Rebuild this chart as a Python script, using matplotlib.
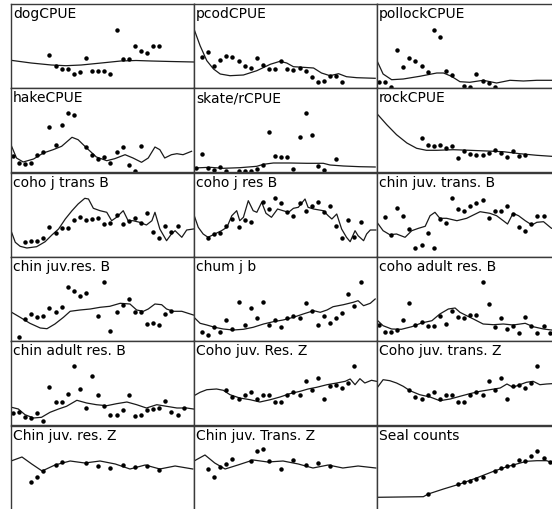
import matplotlib
matplotlib.use("Agg")
from matplotlib import pyplot as plt

# dots: year index + value ; lines: model fit (time, value)
dog_t = list(range(6, 25))
dog_v = [33.3, 22.3, 18.7, 18.7, 14.3, 16, 30.3, 17.3, 17.3, 16.7, 14.3, 58, 29, 29, 41.7, 37.3, 34.7, 41.7, 42.3]
dog_lt = [-0.3, 3.0, 6.3, 8.7, 11.2, 14.5, 17.7, 20.2, 22.7, 25.9, 29.7]
dog_lv = [27.7, 25, 23, 22.3, 23, 25, 27, 27.5, 27, 26.5, 26]

pcod_t = list(range(1, 25))
pcod_v = [30.7, 36.3, 22.3, 27.7, 32.3, 31.3, 27, 22.3, 20, 30.3, 23, 18.7, 19.3, 27, 19.3, 18, 20.3, 16.7, 11.3, 6.3, 7, 11.7, 11.7, 6.3]
pcod_lt = [-0.3, 0.7, 1.8, 2.9, 4.0, 5.6, 7.8, 10.0, 12.2, 13.8, 14.9, 16.0, 17.6, 19.3, 20.6, 22.0, 23.4, 24.7, 26.4, 29.4]
pcod_lv = [59, 42.3, 27.3, 19, 14, 12.3, 13, 17.3, 23.7, 26.7, 25, 21.3, 20.7, 20, 15, 12.3, 14.3, 11.3, 10.3, 9.7]

poll_t = list(range(0, 13)) + list(range(14, 20))
poll_v = [5.7, 6.3, 1, 38, 20.7, 29.7, 27, 22.3, 16.3, 58.3, 51, 17, 13, 1.7, 1, 13.7, 7.3, 5, 1]
poll_lt = [-0.3, 0.7, 2.1, 4.0, 6.7, 9.5, 10.6, 11.9, 13.3, 14.9, 17.1, 19.3, 21.5, 23.7, 25.9, 28.3, 29.7]
poll_lv = [27.3, 14, 8.3, 9, 11.7, 15, 15, 11.7, 6.3, 5.7, 7.7, 5, 7.7, 7, 7.7, 7.7, 7.7]

hake_t = list(range(0, 11)) + list(range(12, 22))
hake_v = [16.3, 9, 8.3, 9, 17.3, 20.3, 45.3, 27, 46.7, 59.3, 56.7, 25, 16.7, 13, 14.7, 9, 19.7, 25.3, 7, 1, 26.3]
hake_lt = [-0.2, 0.6, 1.7, 3.4, 5.0, 6.6, 8.0, 9.7, 10.7, 12.1, 13.7, 15.4, 16.7, 18.4, 19.7, 21.1, 22.2, 23.3, 24.1, 24.9, 26.0, 26.9, 27.9, 29.3]
hake_lv = [25.7, 14, 10, 13, 19, 22.3, 25.7, 34.7, 32.3, 24, 15, 11.3, 13.3, 17.3, 14, 9.7, 14, 25, 22.3, 14, 17.3, 18.3, 17.3, 20.7]

skate_t = list(range(0, 6)) + list(range(7, 22)) + [23]
skate_v = [4, 18.3, 4, 1.7, 5.3, 1, 1, 1, 1, 3.3, 7.3, 40.3, 15.7, 14.7, 14.7, 3, 35, 59, 37.3, 6.3, 1.7, 12.7]
skate_lt = [-0.3, 2.3, 4.5, 7.2, 10.0, 11.1, 12.7, 15.4, 18.2, 20.9, 22.0, 24.2, 26.9, 29.4]
skate_lv = [4, 4.7, 3.7, 4.3, 5.7, 7.7, 9, 9, 8.7, 8.7, 7, 6, 5.3, 5]

rock_t = list(range(7, 25))
rock_v = [34, 26.7, 25.7, 26.7, 23.7, 25.7, 13.7, 20.7, 18.3, 17, 17, 19, 22, 19.3, 15.3, 20.7, 16, 17]
rock_lt = [-0.3, 1.3, 2.9, 4.6, 6.2, 7.8, 9.5, 12.2, 14.9, 17.7, 20.4, 23.1, 25.9, 28.3, 29.7]
rock_lv = [58.3, 47.3, 37.3, 29, 23.7, 21.7, 21.7, 22.3, 21.7, 21, 20.3, 18.3, 16.7, 15.7, 15.3]

cjt_t = list(range(2, 28))
cjt_v = [15.3, 16, 16, 19.3, 29.7, 24, 28.7, 29, 36.7, 39.7, 37, 38, 38.7, 33, 34, 42, 32.7, 35.7, 38.7, 33.7, 44.3, 25, 19.3, 31.3, 24.7, 31.3]
cjt_lt = [-0.2, 0.4, 1.2, 2.3, 3.9, 5.3, 6.4, 7.5, 8.6, 9.7, 10.7, 11.8, 12.4, 13.2, 14.3, 15.4, 16.2, 17.0, 18.1, 18.9, 19.7, 20.8, 21.9, 22.8, 23.3, 24.1, 25.2, 26.0, 26.6, 27.7, 28.5, 29.6]
cjt_lv = [24.7, 14.7, 10.7, 9, 10.3, 15.3, 22, 28, 38, 46.3, 53, 58.7, 58, 48.7, 46.3, 44.7, 36.3, 39.7, 46.3, 36.3, 36.3, 34.7, 32, 36.3, 44.7, 28, 16.3, 23, 26.3, 19.7, 27, 28]

cjr_t = list(range(2, 10)) + list(range(11, 28))
cjr_v = [18.7, 23, 23.7, 30.7, 38, 29.7, 37.3, 34.7, 55.3, 47.7, 58.7, 54.3, 45.3, 41, 54.3, 46.3, 51.3, 55.3, 45.3, 51, 30.7, 18.7, 37, 20.3, 34.7]
cjr_lt = [-0.3, 0.4, 1.2, 2.0, 3.1, 4.2, 5.1, 5.9, 6.7, 7.2, 7.8, 8.6, 9.4, 10.0, 10.8, 11.5, 12.4, 13.4, 14.3, 15.2, 16.0, 16.8, 17.9, 18.4, 19.3, 20.9, 21.7, 22.3, 23.1, 23.9, 24.7, 25.3, 26.1, 26.6, 27.5, 28.0, 28.6, 29.5]
cjr_lv = [42, 29.7, 23, 19.7, 23, 26.3, 29.7, 41.3, 46.3, 36.3, 39.7, 56.3, 46.3, 44.7, 54.7, 43.7, 39.7, 48, 46.3, 44.7, 48.7, 49.7, 58, 49.7, 48, 46.3, 41.3, 38, 43, 28, 19.7, 15.3, 26.3, 21.3, 16.3, 23, 27, 27]

chjt_t = list(range(1, 28))
chjt_v = [40.3, 22, 49, 40.7, 28, 9, 12, 23.7, 9, 38, 33.7, 58.7, 48, 46.3, 51.3, 53.7, 57, 39.3, 45.7, 45.7, 51.3, 42.7, 29.7, 26, 32.7, 40.7, 40.7]
chjt_lt = [-0.3, 0.7, 1.8, 2.9, 4.3, 5.4, 6.5, 7.6, 8.4, 9.2, 10.0, 11.1, 12.8, 14.4, 15.5, 16.6, 18.2, 19.3, 20.4, 21.1, 22.0, 22.9, 24.0, 25.1, 25.9, 27.0, 28.3, 29.7]
chjt_lv = [34.7, 26.3, 22.3, 23, 19.7, 26.3, 28.7, 30.7, 41.3, 44.7, 38.7, 38.7, 36.3, 38.7, 42, 45.3, 43.7, 41.3, 36.3, 33, 43.7, 41.3, 36.3, 32, 34.7, 35.3, 28.7, 28.7]

chjr_t = list(range(1, 13)) + list(range(14, 27))
chjr_v = [3.7, 22, 27, 24.3, 24.7, 33, 28.7, 33.7, 54.3, 50.3, 45.3, 47.7, 24.7, 58.7, 9.7, 29.3, 36, 42, 29.3, 29.3, 17, 18, 16.3, 27, 30]
chjr_lt = [-0.2, 1.2, 2.8, 4.5, 5.6, 6.9, 8.3, 9.4, 11.0, 12.7, 14.3, 15.9, 17.6, 19.2, 20.3, 21.4, 22.2, 23.3, 24.4, 25.2, 26.3, 27.7, 29.6]
chjr_lv = [28.7, 23.7, 17.7, 13, 12.3, 17, 23.7, 29.7, 31, 32, 33.7, 34.7, 37.7, 37, 31, 29.7, 32, 37, 36.3, 32, 29.7, 29.7, 26]

chum_t = list(range(1, 28))
chum_v = [8.7, 6, 13.7, 8.7, 21, 11.7, 39.3, 16.3, 33, 23, 39.3, 16.3, 21, 13.7, 23, 25.3, 22.7, 37.7, 30.3, 16.3, 25.3, 18, 23, 28.3, 46.7, 34.7, 58.7]
chum_lt = [-0.3, 0.7, 1.8, 3.1, 4.5, 6.1, 7.8, 9.4, 11.1, 12.7, 14.3, 16.0, 17.6, 19.3, 20.4, 21.5, 22.5, 24.2, 25.8, 26.6, 27.5, 28.6, 29.4]
chum_lv = [23.7, 17.7, 16, 13.7, 12, 11, 11.7, 13.7, 17, 19.3, 21, 23.7, 27, 30.3, 28.7, 31, 34.3, 36.3, 38.7, 40.3, 35.3, 37.7, 42]

car_t = list(range(0, 29))
car_v = [16, 9.3, 8.7, 11, 21.3, 37.7, 16, 19.3, 15.3, 15.3, 25, 16.7, 30.3, 23.7, 22.7, 26.3, 26, 58.7, 37, 13.7, 23, 12, 15.3, 7.7, 24.3, 15.3, 8.3, 15.3, 7.7]
car_lt = [-0.3, 0.7, 2.1, 3.7, 5.4, 7.0, 8.7, 10.0, 11.4, 12.5, 13.3, 14.4, 15.5, 17.1, 18.8, 20.4, 22.0, 24.0, 25.3, 27.0, 28.3, 29.7]
car_lv = [21, 15.3, 12, 11.7, 14.3, 18, 20.3, 27, 32, 33, 28.7, 25.3, 22, 17, 16.3, 17, 16, 17.7, 14.3, 12, 11, 10.5]

chad_t = list(range(0, 29))
chad_v = [12, 12.7, 8, 7, 12, 4, 38, 22.7, 22.7, 31.3, 58.7, 36, 17, 48.7, 29.7, 19.3, 10.3, 10.3, 15.3, 29.7, 9.3, 10.3, 15.3, 16.3, 17, 23.7, 13, 10.3, 17]
chad_lt = [-0.2, 0.9, 2.0, 3.4, 4.7, 6.1, 7.5, 8.8, 10.5, 12.1, 13.7, 15.4, 17.0, 18.7, 20.3, 21.9, 23.6, 25.2, 26.9, 28.5, 29.6]
chad_lv = [17.7, 16, 10.3, 7, 7.7, 12.7, 16, 18.7, 24.7, 22, 20.3, 19.3, 21.3, 23, 20.3, 17, 20.3, 18.7, 17, 17, 16]

cz_t = list(range(5, 27))
cz_v = [35.3, 28, 26.3, 29.7, 33.3, 26.3, 29.7, 29.7, 22.7, 23, 29.7, 33.3, 29.7, 43.7, 35.3, 47, 26.3, 39.3, 40.3, 37, 42, 59.3]
czr_lt = [-0.3, 0.7, 1.8, 3.4, 4.5, 5.6, 7.2, 8.9, 10.5, 12.2, 13.8, 15.4, 17.1, 18.4, 19.8, 21.5, 23.1, 24.5, 25.3, 26.1, 26.9, 27.7, 28.8, 29.6]
czr_lv = [29.3, 32.7, 35.3, 36, 34.7, 30.3, 27, 25.3, 23, 25.3, 28, 31.3, 33.7, 36, 37.7, 40.3, 42, 43.7, 46, 40.3, 46.3, 42, 44.7, 43.7]
czt_lt = [-0.3, 0.7, 1.8, 2.9, 4.0, 5.1, 6.7, 8.4, 10.0, 11.7, 13.3, 14.9, 16.6, 18.2, 19.9, 21.0, 22.0, 23.1, 24.2, 25.3, 26.4, 27.5, 28.3, 29.7]
czt_lv = [37, 45.3, 44.3, 42, 38.7, 34.3, 30.3, 28, 24.3, 26, 28.7, 31.3, 33.7, 35.3, 37, 41, 37.7, 40.3, 42.7, 43.7, 40.3, 41, 41.3, 41.3]

chzr_t = [3, 4, 5, 7, 8, 12, 14, 16, 18, 20, 22, 24]
chzr_v = [28, 33, 39, 45, 48, 47, 44, 42, 45, 43, 44, 40]
chzr_lt = [-0.3, 1.5, 3.1, 4.8, 6.9, 9.4, 11.8, 14.3, 16.8, 19.2, 21.7, 24.1, 26.6, 29.5]
chzr_lv = [49, 53, 46, 39, 45, 49, 47, 49, 46, 41, 45, 41, 44, 41]

chzt_t = [2, 3, 4, 5, 6, 9, 10, 11, 12, 14, 16, 18, 20, 22]
chzt_v = [41, 33, 43, 46, 51, 49, 59, 61, 49, 41, 50, 45, 47, 44]
chzt_lt = [-0.3, 1.5, 3.1, 4.8, 6.9, 9.4, 11.8, 14.3, 16.8, 19.2, 21.7, 24.1, 26.6, 29.5]
chzt_lv = [49, 55, 47, 41, 45, 50, 48, 49, 46, 42, 45, 42, 44, 42]

seal_t = [8, 13, 14, 15, 16, 17, 19, 20, 21, 22, 23, 24, 25, 26, 27, 28]
seal_v = [16, 26, 28.3, 29.3, 31, 32.7, 39.3, 41.7, 44.3, 45.3, 50.3, 48.7, 54.3, 59.3, 52, 47.7]
seal_lt = [-0.3, 7.3, 8.1, 10.6, 13.3, 16.0, 18.8, 21.0, 22.6, 24.2, 25.9, 27.5, 28.3, 29.7]
seal_lv = [12.7, 13.3, 16, 21, 26, 32, 38.7, 43.3, 46, 48.7, 49.3, 49.3, 47.7, 47.7]

panels = [
    ("dogCPUE", dog_t, dog_v, dog_lt, dog_lv),
    ("pcodCPUE", pcod_t, pcod_v, pcod_lt, pcod_lv),
    ("pollockCPUE", poll_t, poll_v, poll_lt, poll_lv),
    ("hakeCPUE", hake_t, hake_v, hake_lt, hake_lv),
    ("skate/rCPUE", skate_t, skate_v, skate_lt, skate_lv),
    ("rockCPUE", rock_t, rock_v, rock_lt, rock_lv),
    ("coho j trans B", cjt_t, cjt_v, cjt_lt, cjt_lv),
    ("coho j res B", cjr_t, cjr_v, cjr_lt, cjr_lv),
    ("chin juv. trans. B", chjt_t, chjt_v, chjt_lt, chjt_lv),
    ("chin juv.res. B", chjr_t, chjr_v, chjr_lt, chjr_lv),
    ("chum j b", chum_t, chum_v, chum_lt, chum_lv),
    ("coho adult res. B", car_t, car_v, car_lt, car_lv),
    ("chin adult res. B", chad_t, chad_v, chad_lt, chad_lv),
    ("Coho juv. Res. Z", cz_t, cz_v, czr_lt, czr_lv),
    ("Coho juv. trans. Z", cz_t, cz_v, czt_lt, czt_lv),
    ("Chin juv. res. Z", chzr_t, chzr_v, chzr_lt, chzr_lv),
    ("Chin juv. Trans. Z", chzt_t, chzt_v, chzt_lt, chzt_lv),
    ("Seal counts", seal_t, seal_v, seal_lt, seal_lv),
]

W, H = 552, 510
fig = plt.figure(figsize=(W / 100, H / 100), dpi=100)
lefts = [11, 194, 377]
tops = [5, 89, 174, 258, 342, 427]

for i, (name, t, v, lt, lv) in enumerate(panels):
    r, c = divmod(i, 3)
    x0, y0 = lefts[c], tops[r]
    ax = fig.add_axes([x0 / W, (H - y0 - 84) / H, 183 / W, 84 / H])
    ax.plot(lt, lv, color="#1a1a1a", lw=0.9)
    ax.plot(t, v, "o", color="black", ms=2.2, mec="black")
    ax.set_xlim(-0.3, 29.7)
    ax.set_ylim(0, 84)
    ax.set_xticks([])
    ax.set_yticks([])
    for s in ax.spines.values():
        s.set_color("#3a3a3a")
        s.set_linewidth(1.0)
    ax.text(0.012, 0.975, name, transform=ax.transAxes, ha="left", va="top",
            fontsize=10, family="DejaVu Sans", color="black")

fig.savefig("out.png", dpi=100)
